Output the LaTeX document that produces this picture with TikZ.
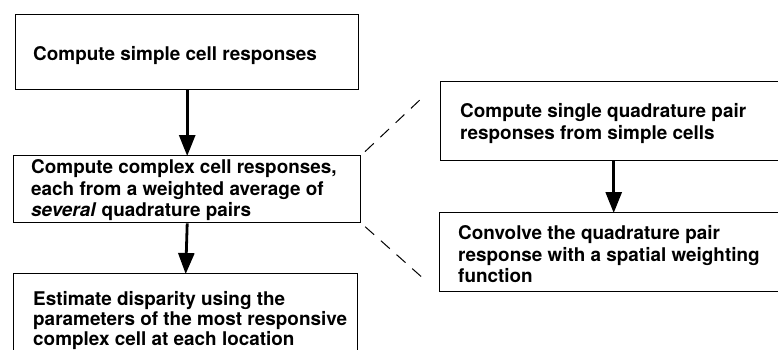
\documentclass[tikz,border=0pt]{standalone}
\usepackage{fontspec}
\setmainfont{TeX Gyre Heros}
\usetikzlibrary{arrows.meta}
\begin{document}
\begin{tikzpicture}[x=1pt,y=-1pt,
  box/.style={draw, line width=1.4pt, rectangle, anchor=north west, inner sep=0pt},
  txt/.style={anchor=west, align=left, inner sep=0pt,
    font=\fontsize{18.9}{21.5}\selectfont\bfseries},
  flow/.style={line width=2.8pt, -{Triangle[width=16pt,length=21pt]}, shorten >=-1pt},
  link/.style={line width=1pt, dash pattern=on 12pt off 9pt, shorten <=5pt, shorten >=24pt}]
\useasboundingbox (0,0) rectangle (778,349);
\clip (0,0) rectangle (778,349);
\node[box, minimum width=343pt, minimum height=75pt] (A) at (15,14) {};
\node[box, minimum width=347pt, minimum height=67pt] (B) at (13,155) {};
\node[box, minimum width=344pt, minimum height=100pt] (C) at (13,273) {};
\node[box, minimum width=346pt, minimum height=79pt] (D) at (440,81) {};
\node[box, minimum width=348pt, minimum height=79pt] (E) at (439,212) {};
\node[txt] (tA) at ([xshift=18pt,yshift=-3.5pt]A.west) {Compute simple cell responses};
\node[txt] (tB) at ([xshift=18pt,yshift=-1pt]B.west) {Compute complex cell responses,\\ each from a weighted average of\\ \textit{several} quadrature pairs};
\node[txt, font=\fontsize{18.9}{20}\selectfont\bfseries] (tC) at ([xshift=20pt,yshift=-48pt]C.north west) {Estimate disparity using the\\ parameters of the most responsive\\ complex cell at each location};
\node[txt] (tD) at ([xshift=20pt,yshift=-2.5pt]D.west) {Compute single quadrature pair\\ responses from simple cells};
\node[txt] (tE) at ([xshift=19pt,yshift=-2pt]E.west) {Convolve the quadrature pair\\ response with a spatial weighting\\ function};
\draw[flow] (A.south) -- (B.north);
\draw[flow] (B.south) -- (C.north);
\draw[flow] (D.south) -- (E.north);
\draw[link] (B.north east) -- (D.north west);
\draw[link] (B.south east) -- (E.south west);
\end{tikzpicture}
\end{document}
